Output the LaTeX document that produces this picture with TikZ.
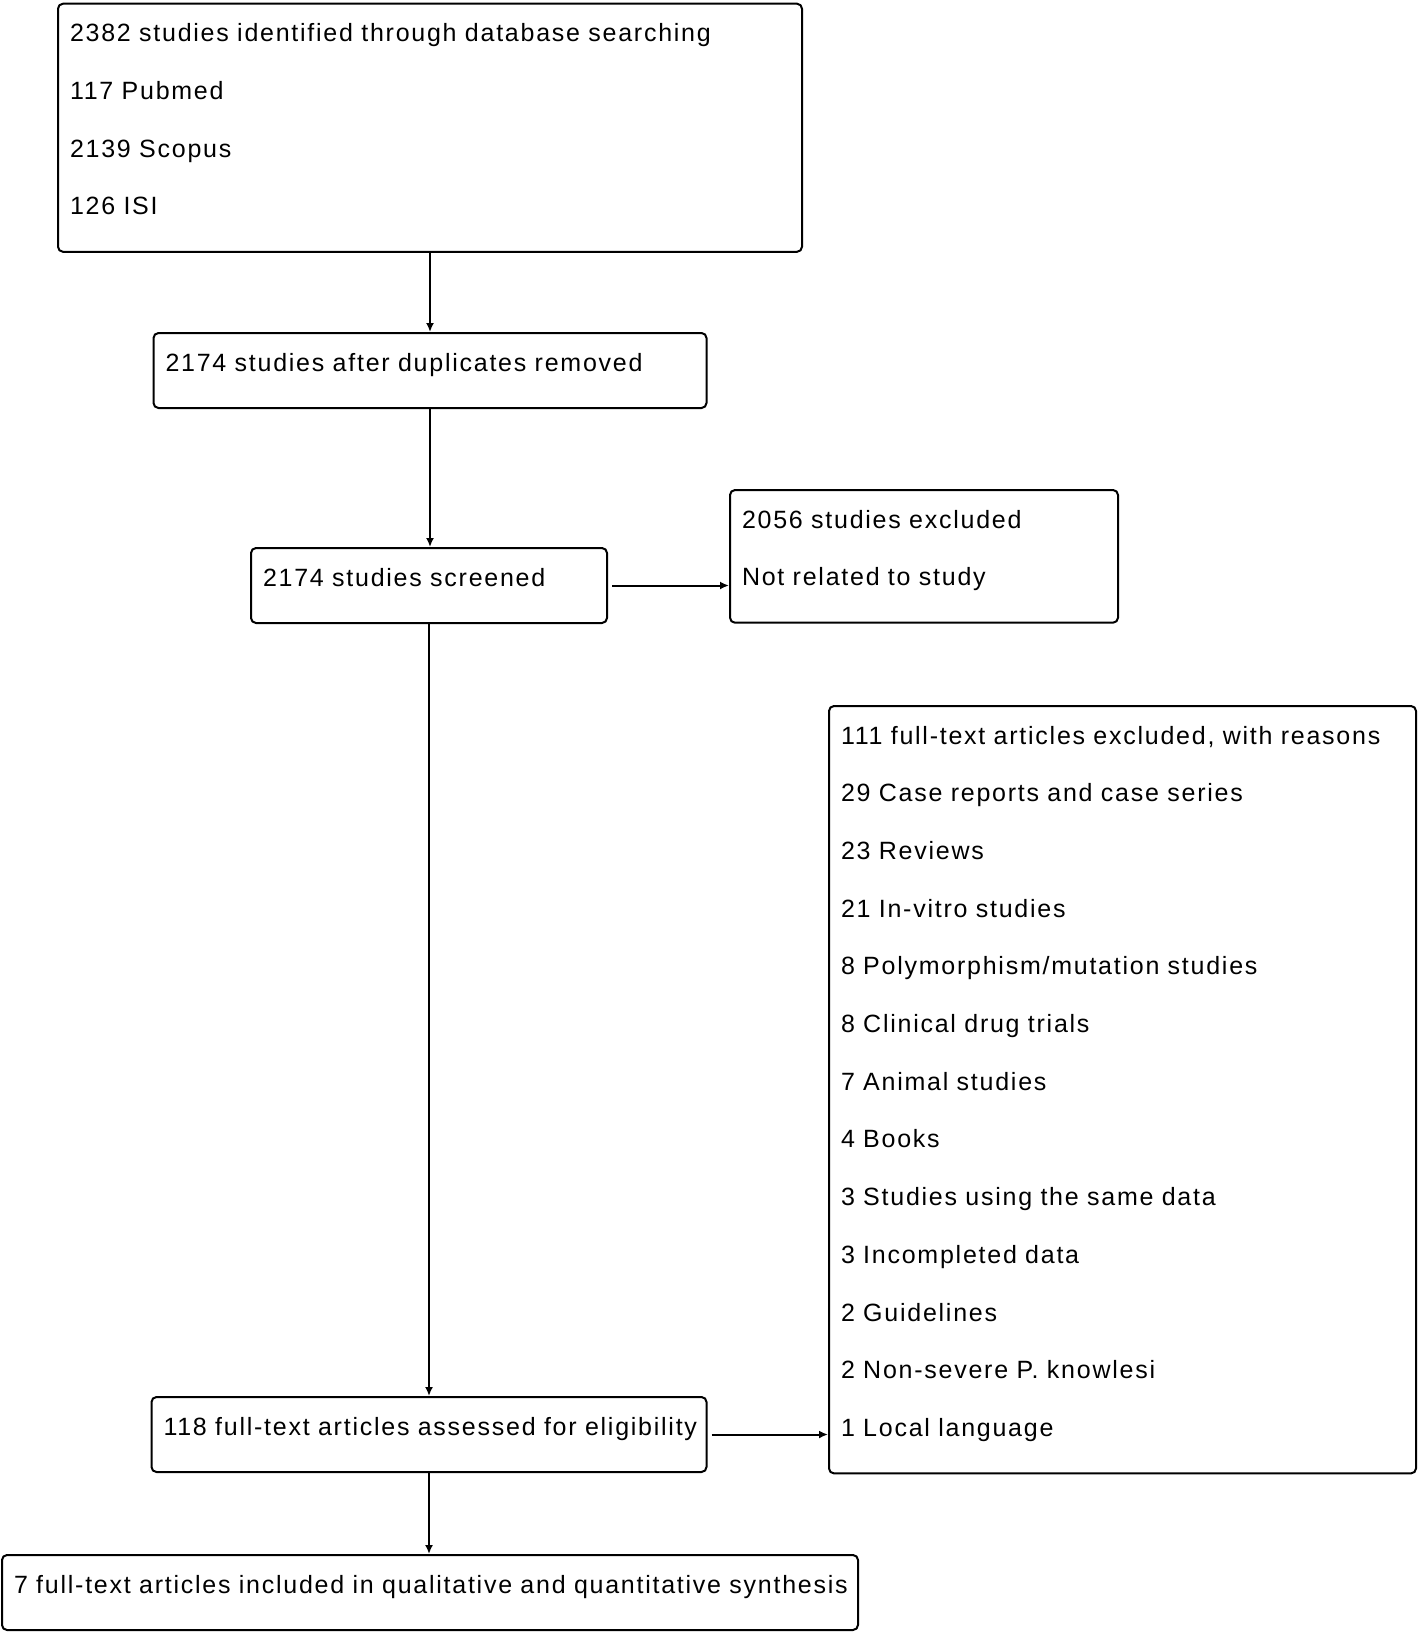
\documentclass[tikz,border=0pt]{standalone}
\usepackage{fontspec}
\setmainfont[LetterSpace=7]{Liberation Sans}
\usetikzlibrary{arrows.meta,calc,positioning}
\newcommand{\toppad}{\rule{0pt}{38pt}}
\newcommand{\botpad}{\rule[-37pt]{0pt}{37pt}}

\begin{document}
\begin{tikzpicture}[x=1pt,y=-1pt,line join=round,
  box/.style={draw,line width=2pt,rounded corners=5pt,inner xsep=12pt,inner ysep=0pt,
    align=left,font=\fontsize{25}{57.7}\selectfont},
  arr/.style={line width=2pt,-{Latex[length=9pt,width=8pt]}}]
\useasboundingbox (0,0) rectangle (1418,1633);
\node[box,anchor=north,text width=720pt] (srch) at (430,2.7) {\toppad 2382 studies identified through database searching\\117 Pubmed\\2139 Scopus\\126 ISI\botpad};
\node[box,anchor=north,text width=529pt] (dup) at (430,332) {\toppad 2174 studies after duplicates removed\botpad};
\node[box,anchor=north,text width=332pt] (scr) at (429,547) {\toppad 2174 studies screened\botpad};
\node[box,anchor=north west,text width=364pt] (excl) at (729,489) {\toppad 2056 studies excluded\\Not related to study\botpad};
\node[box,anchor=north west,text width=563pt] (reas) at (828,705) {\toppad 111 full-text articles excluded, with reasons\\29 Case reports and case series\\23 Reviews\\21 In-vitro studies\\8 Polymorphism/mutation studies\\8 Clinical drug trials\\7 Animal studies\\4 Books\\3 Studies using the same data\\3 Incompleted data\\2 Guidelines\\2 Non-severe P. knowlesi\\1 Local language\botpad};
\node[box,anchor=north,text width=531pt] (elig) at (429,1396) {\toppad 118 full-text articles assessed for eligibility\botpad};
\node[box,anchor=north,text width=832pt] (incl) at (430,1554) {\toppad 7 full-text articles included in qualitative and quantitative synthesis\botpad};
% connectors
\draw[arr] (srch.south) -- (srch.south |- dup.north);
\draw[arr] (dup.south) -- (dup.south |- scr.north);
\draw[arr] (scr.south) -- (scr.south |- elig.north);
\draw[arr] (elig.south) -- (elig.south |- incl.north);
\draw[arr,shorten <=4pt] (scr.east) -- (scr.east -| excl.west);
\draw[arr,shorten <=4pt] (elig.east) -- (elig.east -| reas.west);
\end{tikzpicture}
\end{document}
